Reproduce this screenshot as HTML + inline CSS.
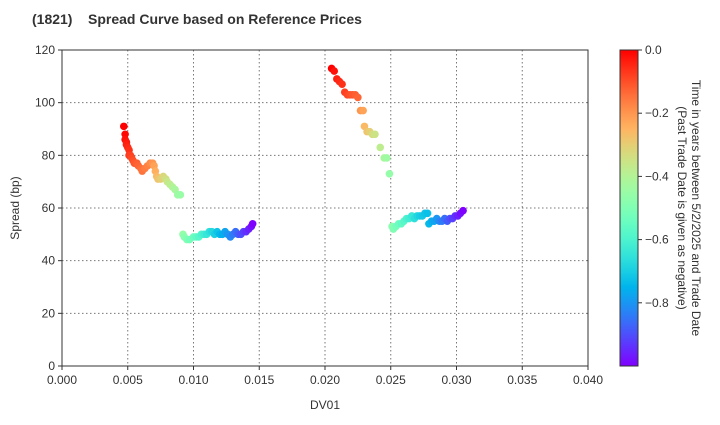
<!DOCTYPE html>
<html><head><meta charset="utf-8"><style>
body{margin:0;background:#fff;font-family:"Liberation Sans",sans-serif;}
svg text{font-family:"Liberation Sans",sans-serif;fill:#333;}
</style></head><body>
<svg id="c" width="720" height="420" xmlns="http://www.w3.org/2000/svg">
<defs><linearGradient id="cb" x1="0" y1="1" x2="0" y2="0"></linearGradient></defs>
<text x="32" y="24" font-size="14" font-weight="bold">(1821)<tspan x="88">Spread Curve based on Reference Prices</tspan></text>
<text transform="translate(19,208) rotate(-90)" text-anchor="middle" font-size="12">Spread (bp)</text>
<text x="325" y="409" text-anchor="middle" font-size="12">DV01</text>
<g id="grid"></g><g id="pts"></g><g id="axes"></g>
<rect x="620" y="50" width="18" height="316" fill="url(#cb)"/>
<g id="cbt"></g>
<text transform="translate(692,208) rotate(90)" text-anchor="middle" font-size="12">Time in years between 5/2/2025 and Trade Date</text>
<text transform="translate(678,208) rotate(90)" text-anchor="middle" font-size="12">(Past Trade Date is given as negative)</text>
</svg>
<script>
const dv01=[0.0047,0.0048,0.0048,0.0049,0.0049,0.0050,0.0051,0.0051,0.0052,0.0053,0.0054,0.0055,0.0057,0.0058,0.0060,0.0061,0.0063,0.0065,0.0067,0.0069,0.0070,0.0071,0.0072,0.0073,0.0075,0.0077,0.0079,0.0080,0.0082,0.0084,0.0086,0.0088,0.0090,
0.0092,0.0093,0.0095,0.0097,0.0100,0.0102,0.0104,0.0106,0.0108,0.0110,0.0112,0.0114,0.0116,0.0118,0.0120,0.0122,0.0124,0.0126,0.0128,0.0130,0.0132,0.0134,0.0136,0.0138,0.0140,0.0142,0.0144,0.0145,
0.0205,0.0207,0.0209,0.0211,0.0213,0.0215,0.0217,0.0219,0.0221,0.0223,0.0225,0.0227,0.0229,0.0230,0.0232,0.0234,0.0236,0.0238,0.0242,0.0245,0.0247,0.0249,
0.0251,0.0252,0.0254,0.0256,0.0258,0.0260,0.0262,0.0264,0.0266,0.0268,0.0270,0.0272,0.0274,0.0276,0.0278,0.0279,0.0281,0.0283,0.0285,0.0287,0.0289,0.0291,0.0293,0.0295,0.0297,0.0299,0.0301,0.0303,0.0305];
const spread=[91,88,86,85,84,83,82,80,80,79,78,77,77,76,75,74,75,76,77,77,76,74,72,71,71,72,71,70,69,68,67,65,65,
50,49,48,48,49,49,49,50,50,50,51,51,50,51,50,50,51,50,49,50,51,50,50,51,51,52,53,54,
113,112,109,108,107,104,103,103,103,103,102,97,97,91,89,89,88,88,83,79,79,73,
53,52,53,54,54,55,56,56,57,56,57,57,57,58,58,54,55,55,56,55,55,56,55,56,56,57,57,58,59];
const years=[0,-0.01,-0.02,-0.03,-0.04,-0.05,-0.06,-0.07,-0.08,-0.09,-0.1,-0.11,-0.12,-0.13,-0.14,-0.15,-0.16,-0.17,-0.18,-0.2,-0.22,-0.24,-0.26,-0.28,-0.3,-0.32,-0.34,-0.36,-0.38,-0.4,-0.42,-0.44,-0.45,
-0.46,-0.48,-0.5,-0.52,-0.54,-0.56,-0.58,-0.6,-0.62,-0.64,-0.66,-0.68,-0.7,-0.72,-0.74,-0.76,-0.78,-0.8,-0.82,-0.84,-0.86,-0.88,-0.9,-0.92,-0.94,-0.96,-0.98,-1.0,
0,-0.02,-0.04,-0.05,-0.06,-0.08,-0.09,-0.1,-0.11,-0.12,-0.13,-0.2,-0.22,-0.26,-0.28,-0.3,-0.33,-0.35,-0.38,-0.42,-0.44,-0.46,
-0.48,-0.5,-0.52,-0.54,-0.56,-0.58,-0.6,-0.62,-0.64,-0.66,-0.68,-0.7,-0.71,-0.72,-0.73,-0.74,-0.76,-0.78,-0.8,-0.82,-0.84,-0.86,-0.88,-0.9,-0.92,-0.94,-0.96,-0.98,-1.0];
const xTicks=[0,0.005,0.010,0.015,0.020,0.025,0.030,0.035,0.040];
const xTickLabels=["0.000","0.005","0.010","0.015","0.020","0.025","0.030","0.035","0.040"];
const yTicks=[0,20,40,60,80,100,120];
const cTicks=[0,-0.2,-0.4,-0.6,-0.8];
const cTickLabels=["0.0","−0.2","−0.4","−0.6","−0.8"];
const X0=62,X1=588,Y0=366,Y1=50,CMIN=-1.0,CMAX=0;
const xs=v=>X0+v/0.04*(X1-X0);
const ys=v=>Y0-v/120*(Y0-Y1);
const cs=v=>Y1+(CMAX-v)/(CMAX-CMIN)*(Y0-Y1);
function rb(f){const r=Math.min(1,Math.abs(2*f-0.5)),g=Math.sin(Math.PI*f),b=Math.cos(Math.PI*f/2);
return `rgb(${Math.round(r*255)},${Math.round(g*255)},${Math.round(b*255)})`;}
const NS="http://www.w3.org/2000/svg";
function mk(t,a,p){const e=document.createElementNS(NS,t);for(const k in a)e.setAttribute(k,a[k]);p.appendChild(e);return e;}
const grid=document.getElementById('grid'),axes=document.getElementById('axes'),pts=document.getElementById('pts'),cbt=document.getElementById('cbt');
xTicks.forEach((v,i)=>{const x=xs(v);
 if(i>0&&i<xTicks.length-1){const l=mk('line',{x1:x,x2:x,y1:Y1,y2:Y0,stroke:'#777','stroke-dasharray':'1.5,2.5','stroke-width':1},grid);
 }
 mk('line',{x1:x,x2:x,y1:Y0,y2:Y0+4,stroke:'#333'},axes);
 const t=mk('text',{x:x,y:Y0+18,'text-anchor':'middle','font-size':12},axes);t.textContent=xTickLabels[i];
 });
yTicks.forEach(v=>{const y=ys(v);
 if(v>0&&v<120){const l=mk('line',{x1:X0,x2:X1,y1:y,y2:y,stroke:'#777','stroke-dasharray':'1.5,2.5','stroke-width':1},grid);
 }
 mk('line',{x1:X0-4,x2:X0,y1:y,y2:y,stroke:'#333'},axes);
 const t=mk('text',{x:X0-7,y:y+4,'text-anchor':'end','font-size':12},axes);t.textContent=v;
 });
const fr=mk('rect',{x:X0,y:Y1,width:X1-X0,height:Y0-Y1,fill:'none',stroke:'#333'},axes);

dv01.forEach((d,i)=>{const f=(years[i]-CMIN)/(CMAX-CMIN);
 const c=mk('circle',{cx:xs(d),cy:ys(spread[i]),r:3.8,fill:rb(f)},pts);
 });
const g=document.getElementById('cb');
for(let k=0;k<=20;k++){mk('stop',{offset:k/20,'stop-color':rb(k/20)},g);}
mk('rect',{x:620,y:50,width:18,height:316,fill:'none',stroke:'#333'},cbt);
cTicks.forEach((v,i)=>{const y=cs(v);mk('line',{x1:638,x2:642,y1:y,y2:y,stroke:'#333'},cbt);
 const t=mk('text',{x:645,y:y+4,'font-size':12},cbt);t.textContent=cTickLabels[i];
 });
</script>
</body></html>
